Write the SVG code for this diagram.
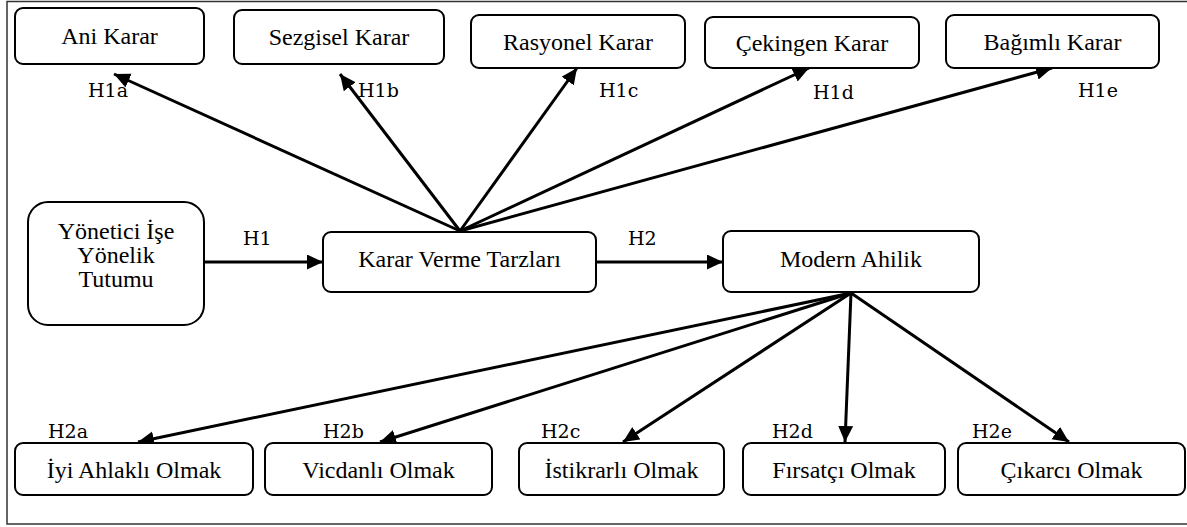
<svg xmlns="http://www.w3.org/2000/svg" width="1187" height="527" viewBox="0 0 1187 527">
<style>
.box{fill:#fff;stroke:#000;stroke-width:2}
.t{font-family:"Liberation Serif","Times New Roman",serif;font-size:24px;fill:#000;text-anchor:middle}
.h{font-family:"DejaVu Serif","Liberation Serif",serif;font-size:19px;fill:#000}
.ln{stroke:#000;stroke-width:3;fill:none;marker-end:url(#ah)}
</style>
<defs>
<marker id="ah" markerUnits="userSpaceOnUse" markerWidth="17" markerHeight="16" refX="16" refY="7.5" orient="auto">
<path d="M0,0 L16,7.5 L0,15 z" fill="#000"/>
</marker>
</defs>
<rect x="7" y="1.5" width="1190" height="522.5" fill="#fff" stroke="#333" stroke-width="1.5"/>

<g id="connectors">
<line class="ln" x1="460" y1="231" x2="114" y2="74"/>
<line class="ln" x1="460" y1="231" x2="340" y2="74"/>
<line class="ln" x1="460" y1="231" x2="577" y2="68"/>
<line class="ln" x1="460" y1="231" x2="809" y2="68"/>
<line class="ln" x1="460" y1="231" x2="1052" y2="68"/>
<line class="ln" x1="204" y1="262" x2="323" y2="262"/>
<line class="ln" x1="596" y1="262" x2="723" y2="262"/>
<line class="ln" x1="851" y1="293" x2="138" y2="442"/>
<line class="ln" x1="851" y1="293" x2="380" y2="442"/>
<line class="ln" x1="851" y1="293" x2="623" y2="442"/>
<line class="ln" x1="851" y1="293" x2="845" y2="442"/>
<line class="ln" x1="851" y1="293" x2="1069" y2="442"/>
</g>

<g id="labels">
<text class="h" x="88" y="97">H1a</text>
<text class="h" x="358" y="97">H1b</text>
<text class="h" x="599" y="97">H1c</text>
<text class="h" x="813" y="99">H1d</text>
<text class="h" x="1078" y="97">H1e</text>
<text class="h" x="243" y="245">H1</text>
<text class="h" x="628" y="245">H2</text>
<text class="h" x="48" y="438">H2a</text>
<text class="h" x="323" y="438">H2b</text>
<text class="h" x="541" y="438">H2c</text>
<text class="h" x="772" y="438">H2d</text>
<text class="h" x="972" y="438">H2e</text>
</g>

<g id="ani"><rect class="box" x="15" y="8" width="189" height="56" rx="8"/><text class="t" x="109.5" y="44">Ani Karar</text></g>
<g id="sezgisel"><rect class="box" x="234" y="10" width="210" height="54" rx="8"/><text class="t" x="339" y="45">Sezgisel Karar</text></g>
<g id="rasyonel"><rect class="box" x="471" y="15" width="214" height="53" rx="8"/><text class="t" x="578" y="50">Rasyonel Karar</text></g>
<g id="cekingen"><rect class="box" x="705" y="17" width="214" height="51" rx="8"/><text class="t" x="812" y="51">Çekingen Karar</text></g>
<g id="bagimli"><rect class="box" x="946" y="15" width="213" height="53" rx="8"/><text class="t" x="1052.5" y="50">Bağımlı Karar</text></g>

<g id="yonetici"><rect class="box" x="28" y="202" width="176" height="123" rx="20"/>
<text class="t" x="116" y="239">Yönetici İşe</text>
<text class="t" x="116" y="263">Yönelik</text>
<text class="t" x="116" y="287">Tutumu</text></g>
<g id="karar"><rect class="box" x="323" y="232" width="273" height="60" rx="8"/><text class="t" x="459.5" y="267">Karar Verme Tarzları</text></g>
<g id="modern"><rect class="box" x="723" y="231" width="256" height="61" rx="8"/><text class="t" x="851" y="267">Modern Ahilik</text></g>

<g id="iyi"><rect class="box" x="15" y="443" width="238" height="52" rx="8"/><text class="t" x="134" y="478">İyi Ahlaklı Olmak</text></g>
<g id="vicdanli"><rect class="box" x="265" y="443" width="227" height="52" rx="8"/><text class="t" x="378.5" y="478">Vicdanlı Olmak</text></g>
<g id="istikrarli"><rect class="box" x="519" y="443" width="205" height="52" rx="8"/><text class="t" x="621.5" y="478">İstikrarlı Olmak</text></g>
<g id="firsatci"><rect class="box" x="743" y="443" width="202" height="52" rx="8"/><text class="t" x="844" y="478">Fırsatçı Olmak</text></g>
<g id="cikarci"><rect class="box" x="958" y="443" width="227" height="52" rx="8"/><text class="t" x="1071.5" y="478">Çıkarcı Olmak</text></g>
</svg>
